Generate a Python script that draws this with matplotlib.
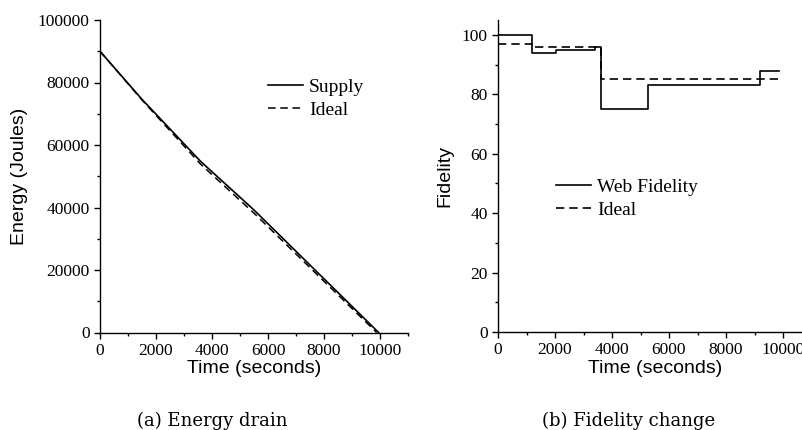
import matplotlib
matplotlib.use('Agg')
import matplotlib.pyplot as plt
from matplotlib.ticker import MultipleLocator

# Energy drain data (seconds, joules)
supply_t = [0, 1500, 3600, 5500, 9950]
supply_e = [90000, 74600, 54700, 39200, 0]
ideal_t = [0, 1500, 3600, 5500, 9880]
ideal_e = [90000, 74400, 53800, 38200, 0]

# Fidelity data (step changes)
fid_t = [0, 1190, 2035, 3400, 3600, 5260, 9190, 9860]
fid_v = [100, 94, 95, 96, 75, 83, 88, 88]
ideal_fid_t = [0, 1200, 3600, 9900]
ideal_fid_v = [97, 96, 85, 85]

serif = 'Liberation Serif'
sans = 'Liberation Sans'

fig = plt.figure(figsize=(8.02, 4.3), dpi=100)
ax1 = fig.add_axes([100 / 802, 97.5 / 430, 308 / 802, 312.5 / 430])
ax2 = fig.add_axes([498 / 802, 98 / 430, 313.5 / 802, 312 / 430])


def style_axis(ax):
    for side in ['top', 'right']:
        ax.spines[side].set_visible(False)
    for side in ['left', 'bottom']:
        ax.spines[side].set_linewidth(1.0)
    ax.tick_params(which='major', direction='out', length=4, width=1, labelsize=12.5)
    ax.tick_params(which='minor', direction='out', length=2.5, width=1)
    for lbl in ax.get_xticklabels() + ax.get_yticklabels():
        lbl.set_fontfamily(serif)
    ax.xaxis.set_major_locator(MultipleLocator(2000))
    ax.xaxis.set_minor_locator(MultipleLocator(1000))
    ax.set_xlim(0, 11000)
    ax.set_xlabel('Time (seconds)', fontsize=14, fontfamily=sans, labelpad=1)


# (a) Energy drain
ax1.plot(supply_t, supply_e, color='black', lw=1.2, label='Supply')
ax1.plot(ideal_t, ideal_e, color='black', lw=1.1, dashes=(5, 3), label='Ideal')
ax1.set_ylim(0, 100000)
ax1.yaxis.set_major_locator(MultipleLocator(20000))
ax1.yaxis.set_minor_locator(MultipleLocator(10000))
style_axis(ax1)
ax1.set_ylabel('Energy (Joules)', fontsize=14, fontfamily=sans)
ax1.yaxis.set_label_coords(-72 / 308, 0.5)
ax1.legend(loc='upper left', bbox_to_anchor=(268 / 802, 1 - 78 / 430),
           bbox_transform=fig.transFigure, frameon=False, borderpad=0,
           borderaxespad=0, handlelength=1.8, handletextpad=0.3,
           labelspacing=0.3, prop={'family': serif, 'size': 14})

# (b) Fidelity change
ax2.step(fid_t, fid_v, where='post', color='black', lw=1.2, label='Web Fidelity')
ax2.step(ideal_fid_t, ideal_fid_v, where='post', color='black', lw=1.2,
         dashes=(5, 3), label='Ideal')
ax2.set_ylim(0, 105)
ax2.yaxis.set_major_locator(MultipleLocator(20))
ax2.yaxis.set_minor_locator(MultipleLocator(10))
style_axis(ax2)
ax2.set_ylabel('Fidelity', fontsize=14, fontfamily=sans)
ax2.yaxis.set_label_coords(-45 / 313.5, 0.5)
ax2.legend(loc='upper left', bbox_to_anchor=(556 / 802, 1 - 178 / 430),
           bbox_transform=fig.transFigure, frameon=False, borderpad=0,
           borderaxespad=0, handlelength=1.8, handletextpad=0.3,
           labelspacing=0.3, prop={'family': serif, 'size': 14})

# captions
fig.text(212 / 802, 1 - 421 / 430, '(a) Energy drain', ha='center', va='center',
         fontsize=13, fontfamily='DejaVu Serif')
fig.text(629 / 802, 1 - 421 / 430, '(b) Fidelity change', ha='center', va='center',
         fontsize=13, fontfamily='DejaVu Serif')

fig.savefig('out.png', dpi=100)
